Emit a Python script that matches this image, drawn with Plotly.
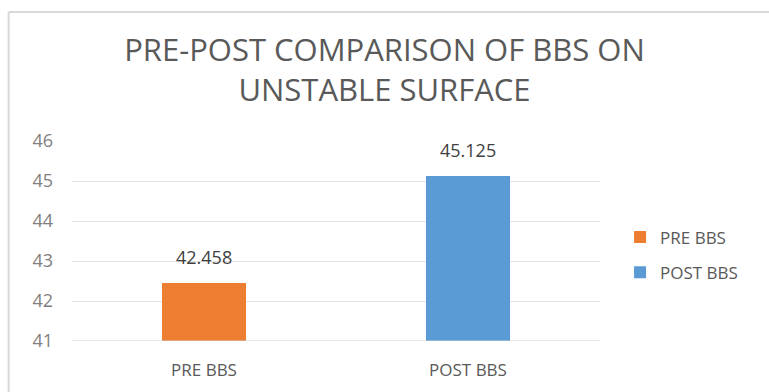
import plotly.graph_objects as go

# BBS scores before and after training on an unstable surface
categories = ["PRE BBS", "POST BBS"]
values = [42.458, 45.125]
series_names = ["PRE BBS", "POST BBS"]
colors = ["#ED7D31", "#5B9BD5"]
tick_vals = [41, 42, 43, 44, 45, 46]
y_min = 41

fig = go.Figure()
for cat, val, name, col in zip(categories, values, series_names, colors):
    fig.add_trace(go.Bar(
        x=[cat], y=[val - y_min], base=y_min, name=name,
        legendgroup=name,
        marker=dict(color=col, line=dict(width=0)),
        width=0.315,
    ))
    # value label above each bar
    fig.add_annotation(
        x=cat, y=val, xref="x", yref="y",
        text=f"{val:.3f}", showarrow=False,
        yanchor="bottom", yshift=12,
        font=dict(size=18, color="#404040", family="Open Sans"),
    )

fig.update_layout(
    width=769, height=392,
    margin=dict(l=72, r=169, t=141, b=51),
    paper_bgcolor="white", plot_bgcolor="white",
    barmode="overlay",
    font=dict(family="Open Sans", color="#595959"),
    title=dict(
        text="PRE-POST COMPARISON OF BBS ON<br>UNSTABLE SURFACE",
        x=0.5, xanchor="center", xref="container",
        y=1 - 61 / 392, yanchor="middle", yref="container",
        font=dict(size=31, color="#595959", family="Open Sans"),
    ),
    xaxis=dict(
        categoryorder="array", categoryarray=categories,
        showgrid=False, showline=False, ticks="",
        tickfont=dict(size=17, color="#595959"),
        ticklabelstandoff=17,
        range=[-0.5, 1.5],
    ),
    yaxis=dict(
        range=[y_min, 46], tickvals=tick_vals,
        showgrid=True, gridcolor="#E3E3E3", gridwidth=1,
        zeroline=False, showline=False, ticks="",
        tickfont=dict(size=18, color="#7F7F7F"),
        ticklabelstandoff=18,
    ),
    legend=dict(
        x=1.038, y=0.43, xanchor="left", yanchor="middle",
        font=dict(size=17, color="#595959"),
        tracegroupgap=10, itemwidth=30,
        bgcolor="rgba(0,0,0,0)",
    ),
    bargap=0,
    shapes=[
        dict(type="line", xref="paper", yref="paper",
             x0=-0.12, x1=2, y0=1.645, y1=1.645,
             line=dict(color="#D9D9D9", width=2)),
        dict(type="line", xref="paper", yref="paper",
             x0=-0.12, x1=-0.12, y0=1.645, y1=-1,
             line=dict(color="#D9D9D9", width=2)),
        dict(type="line", xref="paper", yref="y",
             x0=0, x1=1, y0=y_min, y1=y_min,
             line=dict(color="#D0D0D0", width=1)),
    ],
)

fig.write_html("out.html")
